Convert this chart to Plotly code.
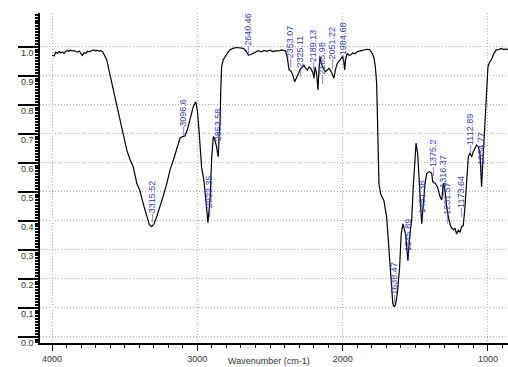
import plotly.graph_objects as go

# Spectrum (wavenumber cm-1, transmittance)
wavenumber = [
    3998, 3986, 3975, 3963, 3952, 3940, 3929, 3917, 3906, 3894, 3883, 3871, 3860, 3849,
    3837, 3826, 3814, 3803, 3791, 3780, 3768, 3757, 3745, 3734, 3722, 3711, 3699, 3688,
    3677, 3665, 3651, 3624, 3600, 3578, 3555, 3532, 3510, 3486, 3463, 3441, 3417, 3395,
    3372, 3349, 3330, 3314, 3297, 3280, 3257, 3234, 3211, 3188, 3165, 3142, 3119, 3101,
    3085, 3068, 3050, 3028, 3011, 3000, 2990, 2980, 2970, 2955, 2940, 2927, 2913, 2901,
    2890, 2883, 2870, 2856, 2850, 2844, 2839, 2833, 2822, 2810, 2790, 2775, 2750, 2729,
    2700, 2684, 2665, 2649, 2635, 2615, 2600, 2580, 2560, 2540, 2520, 2500, 2480, 2460,
    2440, 2420, 2400, 2392, 2380, 2369, 2355, 2345, 2330, 2320, 2312, 2300, 2289, 2275,
    2266, 2255, 2243, 2230, 2220, 2205, 2197, 2190, 2186, 2178, 2170, 2163, 2156, 2150,
    2140, 2128, 2117, 2105, 2094, 2080, 2070, 2060, 2050, 2037, 2018, 2002, 1992, 1986,
    1978, 1968, 1955, 1945, 1930, 1915, 1899, 1880, 1860, 1845, 1830, 1815, 1807, 1795,
    1784, 1775, 1766, 1758, 1750, 1738, 1716, 1697, 1681, 1665, 1655, 1647, 1636, 1624,
    1608, 1597, 1585, 1567, 1551, 1537, 1525, 1514, 1502, 1495, 1484, 1472, 1456, 1444,
    1433, 1421, 1403, 1387, 1380, 1364, 1348, 1330, 1318, 1307, 1296, 1284, 1273, 1256,
    1238, 1227, 1216, 1204, 1193, 1181, 1170, 1158, 1147, 1135, 1124, 1112, 1101, 1078,
    1066, 1055, 1044, 1032, 1020, 1010, 1000, 990, 977, 960, 943, 925, 908, 890, 875, 862,
]
transmittance = [
    0.971, 0.968, 0.981, 0.977, 0.983, 0.979, 0.982, 0.977, 0.984, 0.986, 0.984, 0.988, 0.985, 0.986,
    0.983, 0.981, 0.985, 0.977, 0.970, 0.979, 0.977, 0.984, 0.982, 0.985, 0.986, 0.989, 0.985, 0.988,
    0.984, 0.986, 0.982, 0.955, 0.900, 0.850, 0.800, 0.750, 0.700, 0.644, 0.610, 0.585, 0.529, 0.503,
    0.457, 0.413, 0.385, 0.379, 0.390, 0.413, 0.447, 0.486, 0.527, 0.575, 0.609, 0.650, 0.685, 0.690,
    0.692, 0.715, 0.747, 0.793, 0.810, 0.780, 0.720, 0.650, 0.580, 0.540, 0.470, 0.393, 0.470, 0.620,
    0.690, 0.685, 0.660, 0.620, 0.700, 0.737, 0.850, 0.930, 0.955, 0.966, 0.980, 0.989, 0.995, 0.997,
    0.996, 0.994, 0.985, 0.971, 0.972, 0.977, 0.983, 0.986, 0.982, 0.987, 0.984, 0.988, 0.983, 0.986,
    0.985, 0.989, 0.986, 0.985, 0.960, 0.920, 0.915, 0.905, 0.879, 0.890, 0.902, 0.915, 0.925, 0.930,
    0.937, 0.925, 0.920, 0.930, 0.925, 0.910, 0.891, 0.930, 0.925, 0.900, 0.851, 0.920, 0.966, 0.950,
    0.931, 0.920, 0.914, 0.920, 0.925, 0.915, 0.900, 0.891, 0.920, 0.943, 0.954, 0.966, 0.950, 0.920,
    0.960, 0.977, 0.970, 0.971, 0.978, 0.975, 0.983, 0.985, 0.988, 0.990, 0.991, 0.990, 0.985, 0.975,
    0.960, 0.930, 0.874, 0.700, 0.526, 0.492, 0.469, 0.412, 0.297, 0.159, 0.115, 0.103, 0.110, 0.147,
    0.239, 0.354, 0.389, 0.354, 0.262, 0.354, 0.402, 0.517, 0.632, 0.667, 0.632, 0.517, 0.389, 0.460,
    0.529, 0.563, 0.569, 0.563, 0.534, 0.529, 0.517, 0.483, 0.471, 0.529, 0.506, 0.448, 0.414, 0.379,
    0.368, 0.374, 0.354, 0.368, 0.359, 0.379, 0.382, 0.448, 0.540, 0.621, 0.632, 0.620, 0.638, 0.661,
    0.655, 0.632, 0.517, 0.632, 0.747, 0.850, 0.930, 0.945, 0.954, 0.975, 0.989, 0.990, 0.994, 0.990, 0.992, 0.989,
]

# Peak labels: text, position of label (wavenumber) and base (transmittance)
peak_text = ["3315.52", "3096.6", "2922.35", "2853.58", "2640.46", "2353.07", "2325.11",
             "2189.13", "2165.98", "2051.22", "1984.68", "1638.47", "1545.89", "1451.38",
             "1375.2", "1316.37", "1231.57", "1173.64", "1112.89", "1034.77"]
peak_x = [3314, 3101, 2924, 2856, 2649, 2362, 2294, 2202, 2144, 2075, 1996, 1647, 1550, 1456,
          1383, 1307, 1284, 1181, 1124, 1044]
peak_y = [0.39, 0.69, 0.41, 0.64, 0.97, 0.926, 0.895, 0.913, 0.868, 0.92, 0.937, 0.11, 0.26, 0.39,
          0.55, 0.48, 0.385, 0.41, 0.626, 0.557]

x_ticks = [4000, 3000, 2000, 1000]
y_ticks = [0.0, 0.1, 0.2, 0.3, 0.4, 0.5, 0.6, 0.7, 0.8, 0.9, 1.0]
x_title = "Wavenumber (cm-1)"

label_blue = "#3a3ab4"
font_family = "Liberation Sans, Arial, sans-serif"

fig = go.Figure()
fig.add_trace(go.Scatter(x=wavenumber, y=transmittance, mode="lines",
                         line=dict(color="black", width=1.2), hoverinfo="skip"))

for t, xv, yv in zip(peak_text, peak_x, peak_y):
    fig.add_annotation(x=xv, y=yv, xref="x", yref="y", text="\u2014" + t, textangle=-90,
                       showarrow=False, xanchor="center", yanchor="bottom",
                       font=dict(family=font_family, size=9, color=label_blue),
                       borderpad=0)

# axis title, placed below the tick labels
fig.add_annotation(x=0.49, y=-0.055, xref="paper", yref="paper", text=x_title,
                   showarrow=False, xanchor="center", yanchor="middle",
                   font=dict(family=font_family, size=9, color="#333333"))

fig.update_layout(
    width=508, height=367,
    margin=dict(l=40, r=0, t=13, b=24),
    paper_bgcolor="white", plot_bgcolor="white",
    showlegend=False,
    font=dict(family=font_family, size=9, color="#333333"),
    xaxis=dict(
        range=[4083, 862], tickmode="array", tickvals=x_ticks,
        ticktext=[str(v) for v in x_ticks],
        ticks="outside", ticklen=6, tickwidth=1, tickcolor="black",
        minor=dict(dtick=100, tick0=0, ticks="outside", ticklen=3, tickcolor="black", showgrid=False),
        showline=True, linecolor="black", linewidth=1.5,
        showgrid=True, gridcolor="#aaaaaa", griddash="1px,2px", gridwidth=1,
        zeroline=False,
        automargin=False,
        tickfont=dict(size=9, color="#333333"),
    ),
    yaxis=dict(
        range=[-0.022, 1.116], tickmode="array", tickvals=y_ticks,
        ticktext=["%.1f" % v for v in y_ticks],
        ticks="outside", ticklen=20, tickwidth=1.5, tickcolor="black",
        minor=dict(dtick=0.01, tick0=0, ticks="outside", ticklen=3, tickcolor="black", showgrid=False),
        showline=True, linecolor="black", linewidth=1.5,
        showgrid=True, gridcolor="#aaaaaa", griddash="1px,2px", gridwidth=1,
        zeroline=False,
        ticklabelstandoff=-17, ticklabelshift=6,
        automargin=False,
        tickfont=dict(size=9, color="#333333"),
    ),
)

fig.write_html("out.html")
